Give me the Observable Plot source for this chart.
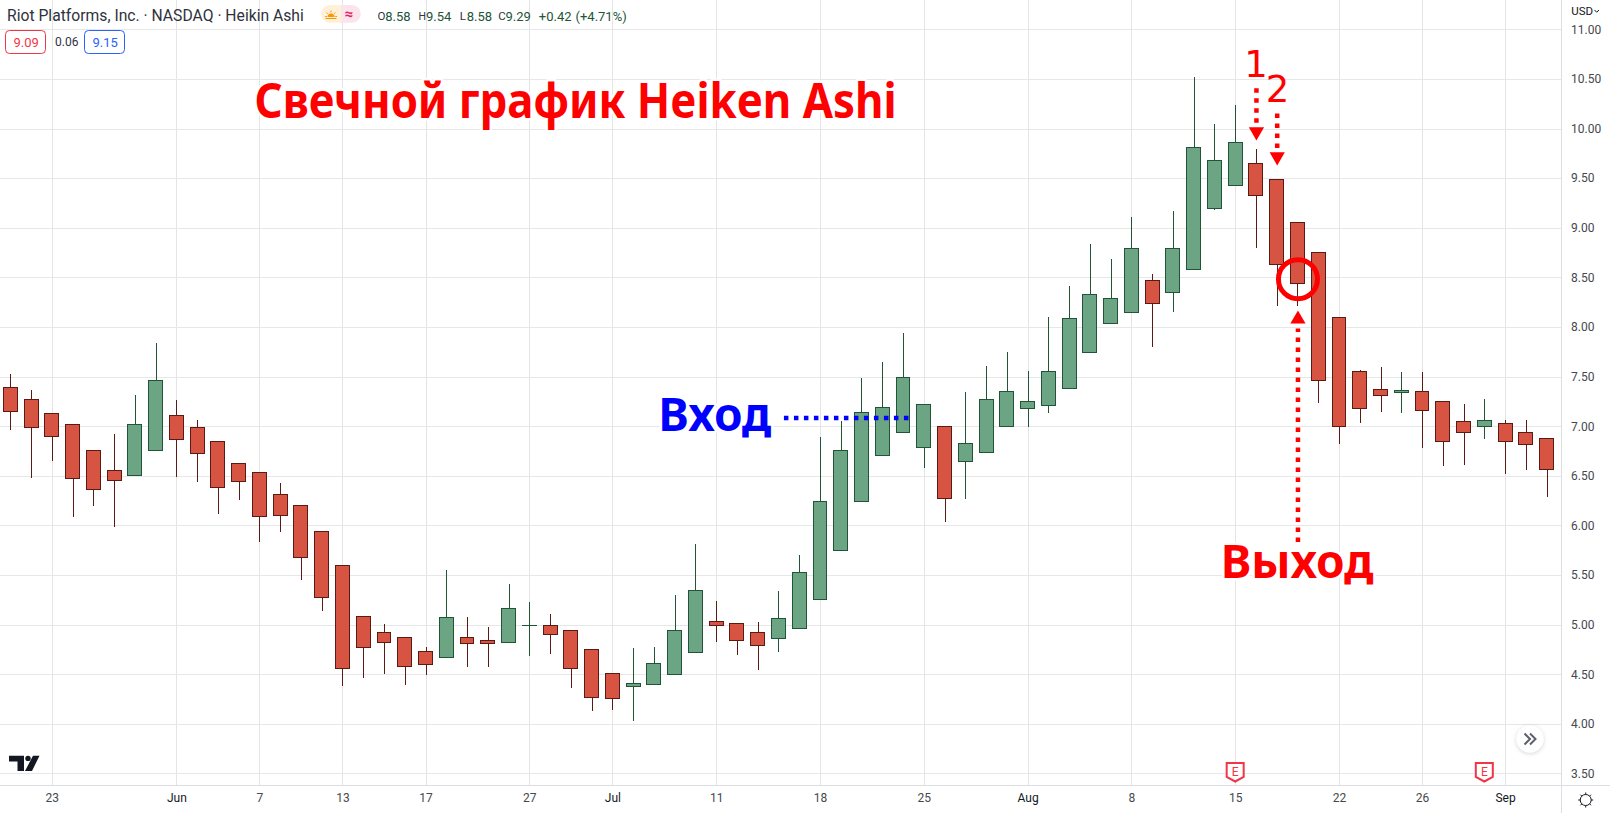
<!DOCTYPE html>
<html lang="ru">
<head>
<meta charset="utf-8">
<title>Свечной график Heiken Ashi</title>
<style>html,body{margin:0;padding:0;background:#fff;overflow:hidden}svg{display:block}</style>
<script src="https://cdn.jsdelivr.net/npm/d3@7"></script>
<script src="https://cdn.jsdelivr.net/npm/@observablehq/plot@0.6"></script>
</head>
<body>
<div id="chart"></div>
<script>
const opens = [7.39,7.27,7.13,7.02,6.75,6.55,6.50,6.76,7.11,6.99,6.85,6.62,6.53,6.31,6.20,5.94,5.60,5.08,4.92,4.87,4.73,4.67,4.87,4.84,4.82,4.99,4.99,4.94,4.75,4.51,4.375,4.40,4.50,4.72,5.03,5.01,4.92,4.86,4.96,5.25,5.75,6.24,6.70,6.94,6.79,7.00,6.64,6.73,7.00,7.18,7.21,7.38,7.74,8.03,8.15,8.47,8.35,8.58,9.19,9.43,9.65,9.49,9.05,8.75,8.10,7.55,7.37,7.34,7.35,7.25,7.05,7.00,7.03,6.94,6.88];
const closes = [7.15,6.99,6.90,6.47,6.36,6.45,7.02,7.46,6.87,6.72,6.38,6.44,6.09,6.10,5.68,5.27,4.56,4.77,4.82,4.58,4.60,5.07,4.81,4.81,5.16,4.995,4.90,4.56,4.27,4.26,4.41,4.61,4.94,5.34,4.99,4.84,4.79,5.06,5.53,6.24,6.75,7.14,7.19,7.49,7.22,6.27,6.83,7.27,7.35,7.25,7.55,8.09,8.33,8.29,8.79,8.24,8.79,9.81,9.68,9.86,9.32,8.63,8.44,7.46,7.00,7.18,7.31,7.36,7.16,6.85,6.94,7.06,6.85,6.82,6.56];
const highs = [7.53,7.36,7.13,7.02,6.75,6.92,7.31,7.84,7.26,7.06,6.85,6.62,6.53,6.43,6.20,5.94,5.60,5.08,5.01,4.87,4.77,5.55,5.08,4.98,5.41,5.23,5.11,4.94,4.75,4.51,4.76,4.77,5.30,5.81,5.24,5.01,5.03,5.34,5.70,6.89,7.05,7.49,7.65,7.94,7.22,7.00,7.34,7.61,7.75,7.56,8.10,8.41,8.84,8.68,9.11,8.53,9.17,10.52,10.05,10.24,9.79,9.49,9.05,8.75,8.10,7.57,7.60,7.55,7.55,7.25,7.22,7.27,7.06,7.06,6.88];
const lows = [6.96,6.48,6.65,6.08,6.20,5.98,6.50,6.76,6.49,6.44,6.12,6.26,5.83,5.93,5.45,5.14,4.38,4.46,4.50,4.39,4.49,4.67,4.57,4.57,4.82,4.68,4.70,4.36,4.13,4.14,4.03,4.40,4.50,4.72,4.83,4.69,4.54,4.72,4.96,5.25,5.75,6.24,6.70,6.94,6.58,6.03,6.27,6.73,7.00,6.99,7.13,7.38,7.74,8.03,8.15,7.80,8.15,8.58,9.18,9.43,8.80,8.21,8.21,7.23,6.82,7.03,7.14,7.13,6.78,6.60,6.61,6.87,6.52,6.56,6.29];

const dayTicks = [2,12,16,20,25,34,39,44,54,59,64,68];
const dayLabels = ["23","7","13","17","27","11","18","25","8","15","22","26"];
const monthTicks = [8,29,49,72];
const monthLabels = ["Jun","Jul","Aug","Sep"];
const priceTicks = [3.5,4,4.5,5,5.5,6,6.5,7,7.5,8,8.5,9,9.5,10,10.5,11];
const earnings = [59,71];

const entryLine = [[37.24,7.087],[43.26,7.087]];
const arrowLines = [
  [[60,10.41],[60,10.03]],
  [[61,10.157],[61,9.785]],
  [[62,5.837],[62,7.99]]
];
const arrowHeads = [[60,9.974,180],[61,9.722,180],[62,8.083,0]];
const exitCircle = [[62,8.487]];

const rows = opens.map((o,i)=>({i,open:o,close:closes[i],high:highs[i],low:lows[i],up:closes[i]>=o}));
const UP="#6BA583", DOWN="#D75442", UPB="#225437", DOWNB="#5B1A13";
const barHalf = 0.335;
const FONT = "Roboto, 'Liberation Sans', sans-serif";
const BIG = "'Noto Sans', 'Open Sans', sans-serif";

function label(str,dx,dy,o={}){
  return Plot.text([str],{text:d=>d,frameAnchor:"top-left",dx,dy,textAnchor:"start",lineAnchor:"middle",fontSize:13,fontFamily:FONT,fill:"#2f323c",...o});
}
function big(str,x,y,size,fill,o={}){
  return Plot.text([[x,y]],{x:d=>d[0],y:d=>d[1],text:()=>str,textAnchor:"start",lineAnchor:"bottom",fontSize:size,fontWeight:"bold",fontFamily:BIG,fill,stroke:"white",strokeWidth:5,paintOrder:"stroke",...o});
}

function chrome(index,scales,values,dim){
  const g=d3.create("svg:g");
  const line=(x1,y1,x2,y2,s="#dcdee3")=>g.append("line").attr("x1",x1).attr("y1",y1).attr("x2",x2).attr("y2",y2).attr("stroke",s).attr("shape-rendering","crispEdges");
  const bx=dim.width-dim.marginRight+.5, by=dim.height-dim.marginBottom+.5;
  line(0,by,dim.width,by); line(bx,0,bx,dim.height);
  // logo
  g.append("path").attr("fill","#131722").attr("d","M9 755.7H24V771H17.5V761.5H9ZM33 755.7H39.5L32 771H25Z");
  g.append("circle").attr("cx",28).attr("cy",758.4).attr("r",2.7).attr("fill","#131722");
  // earnings
  for(const e of earnings){
    const x=scales.x(e);
    g.append("path").attr("d",`M${x-8.5} 763H${x+8.5}V777L${x} 781.5L${x-8.5} 777Z`).attr("fill","#fff").attr("stroke","#f23645").attr("stroke-width",2);
    g.append("text").attr("x",x).attr("y",776).attr("text-anchor","middle").attr("font-size",12).attr("font-family",FONT).attr("fill","#f23645").text("E");
  }
  // scroll button
  const defs=g.append("defs").append("filter").attr("id","sh").attr("x","-50%").attr("y","-50%").attr("width","200%").attr("height","200%");
  defs.append("feDropShadow").attr("dx",0).attr("dy",1).attr("stdDeviation",2).attr("flood-color","#000").attr("flood-opacity",.18);
  g.append("circle").attr("cx",1530).attr("cy",739).attr("r",13.5).attr("fill","#fff").attr("filter","url(#sh)");
  g.append("path").attr("d","M1524.5 733.5L1530 739L1524.5 744.5M1530 733.5L1535.5 739L1530 744.5").attr("fill","none").attr("stroke","#5d606b").attr("stroke-width",2);
  // settings
  g.append("circle").attr("cx",1585.7).attr("cy",800).attr("r",5.5).attr("fill","none").attr("stroke","#131722");
  for(let a=0;a<8;a++){
    const t=a*Math.PI/4, c=Math.cos(t), s=Math.sin(t);
    g.append("line").attr("x1",1585.7+5.5*c).attr("y1",800+5.5*s).attr("x2",1585.7+7.5*c).attr("y2",800+7.5*s).attr("stroke","#131722");
  }
  // sentiment badge
  g.append("path").attr("d","M330 5H341V22.7H330A8.8 8.8 0 0 1 330 5Z").attr("fill","#fff0d9");
  g.append("path").attr("d","M341 5H352A8.8 8.8 0 0 1 352 22.7H341Z").attr("fill","#fce4ec");
  g.append("path").attr("d","M327.5 17A3.5 3.5 0 0 1 334.5 17Z").attr("fill","#ff9800");
  g.append("path").attr("d","M331 10.5V12.5M326.5 12.5L327.8 13.8M335.5 12.5L334.2 13.8M325 16.5H326.8M335.2 16.5H337M325.5 18.5H336.5").attr("stroke","#ff9800").attr("fill","none");
  // legend boxes
  g.append("rect").attr("x",5.5).attr("y",30.5).attr("width",40).attr("height",23).attr("rx",4).attr("fill","#fff").attr("stroke","#f23645");
  g.append("rect").attr("x",84.5).attr("y",30.5).attr("width",40).attr("height",23).attr("rx",4).attr("fill","#fff").attr("stroke","#2962ff");
  // USD chevron
  g.append("path").attr("d","M1594.5 10L1596.7 12.2L1599 10").attr("fill","none").attr("stroke","#131722");
  return g.node();
}

const plot = Plot.plot({
  width:1610, height:813,
  marginLeft:0, marginRight:49.5, marginTop:0, marginBottom:28,
  style:{background:"#fff",fontFamily:FONT},
  x:{type:"linear",domain:[-0.496,74.67],label:null},
  y:{type:"linear",domain:[3.384,11.295],label:null},
  marks:[
    Plot.gridX([...dayTicks,...monthTicks],{stroke:"#e4e4e6",strokeOpacity:1,shapeRendering:"crispEdges"}),
    Plot.gridY(priceTicks,{stroke:"#e7e7e9",strokeOpacity:1,shapeRendering:"crispEdges"}),
    Plot.axisY(priceTicks,{anchor:"right",tickSize:0,tickPadding:10,tickFormat:d3.format(".2f"),fontSize:12,fontFamily:FONT,fill:"#45484f",label:null}),
    Plot.axisX(dayTicks,{anchor:"bottom",tickSize:0,tickPadding:8,tickFormat:i=>dayLabels[dayTicks.indexOf(i)],fontSize:12,fontFamily:FONT,fill:"#45484f",label:null}),
    Plot.axisX(monthTicks,{anchor:"bottom",tickSize:0,tickPadding:8,tickFormat:i=>monthLabels[monthTicks.indexOf(i)],fontSize:12,fontFamily:FONT,fill:"#131722",label:null}),
    chrome,
    big("Свечной график Heiken Ashi",11.74,10.11,47.5,"#ff0000",{className:"main-title"}),
    big("Вход",31.19,6.956,46,"#0000ff"),
    big("Выход",58.28,5.474,46,"#ff0000"),
    Plot.ruleX(rows,{x:"i",y1:"low",y2:"high",stroke:d=>d.up?UPB:DOWNB,strokeWidth:1,shapeRendering:"crispEdges"}),
    Plot.rect(rows,{x1:d=>d.i-barHalf,x2:d=>d.i+barHalf,y1:"open",y2:"close",fill:d=>d.up?UP:DOWN,stroke:d=>d.up?UPB:DOWNB,strokeWidth:1,shapeRendering:"crispEdges"}),
    Plot.line(entryLine,{x:"0",y:"1",stroke:"#0000ff",strokeWidth:4.5,strokeLinecap:"butt",strokeDasharray:"4.5 5.5"}),
    ...arrowLines.map(l=>Plot.line(l,{x:"0",y:"1",stroke:"#ff0000",strokeWidth:4.5,strokeLinecap:"butt",strokeDasharray:"4.5 5.5"})),
    Plot.dot(arrowHeads,{x:"0",y:"1",rotate:"2",symbol:"triangle",r:5.66,fill:"#ff0000"}),
    Plot.dot(exitCircle,{x:"0",y:"1",r:19.5,stroke:"#ff0000",strokeWidth:5,fill:"none"}),
    big("1",59.98,10.52,37,"#ff0000",{textAnchor:"middle",fontWeight:"normal",strokeWidth:0,fontFamily:"'DejaVu Sans'"}),
    big("2",61.02,10.268,37,"#ff0000",{textAnchor:"middle",fontWeight:"normal",strokeWidth:0,fontFamily:"'DejaVu Sans'"}),
    label("Riot Platforms, Inc. · NASDAQ · Heikin Ashi",6.5,15.5,{fontSize:15.7}),
    label("≈",340.5+3.5,14,{fill:"#e91e63",fontSize:15,fontWeight:"bold"}),
    label("O",377,16,{fontSize:11.5}),label("8.58",384.7,16,{fill:UPB}),
    label("H",418,16,{fontSize:10.5}),label("9.54",425.5,16,{fill:UPB}),
    label("L",459.3,16,{fontSize:11.5}),label("8.58",466.3,16,{fill:UPB}),
    label("C",497.7,16,{fontSize:11.5}),label("9.29",505,16,{fill:UPB}),
    label("+0.42",538.3,16,{fill:UPB}),label("(+4.71%)",575,16,{fill:UPB}),
    label("9.09",13,42,{fill:"#f23645"}),
    label("0.06",54.5,42,{fill:"#2f323c",fontSize:12}),
    label("9.15",92,42,{fill:"#2962ff"}),
    label("USD",1570.7,11,{fontSize:11.5,fill:"#131722"})
  ]
});
d3.select(plot).select(".main-title text").attr("textLength",642).attr("lengthAdjust","spacingAndGlyphs");
document.getElementById("chart").appendChild(plot);
</script>
</body>
</html>
